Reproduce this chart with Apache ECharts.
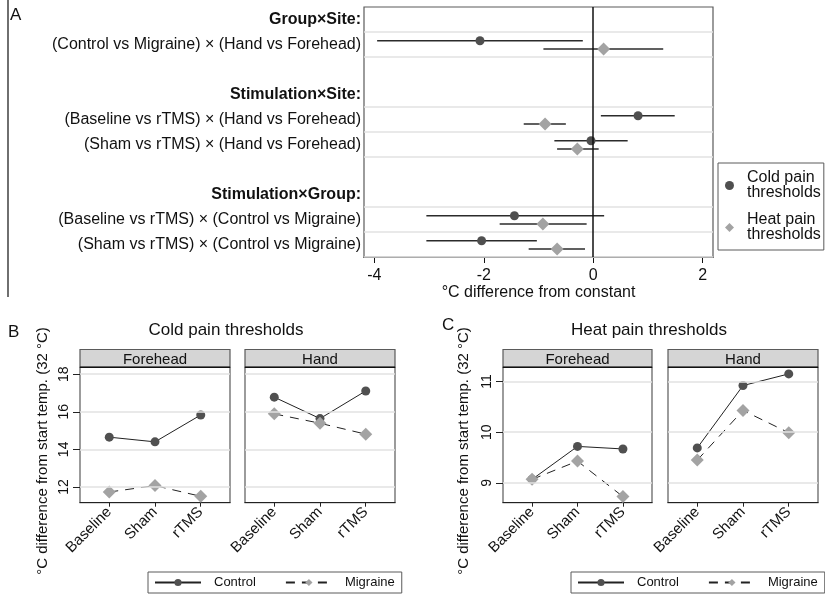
<!DOCTYPE html>
<html>
<head>
<meta charset="utf-8">
<script src="https://cdn.jsdelivr.net/npm/echarts@6/dist/echarts.min.js"></script>
<style>
html, body { margin: 0; padding: 0; background: #fff; }
#chart { width: 825px; height: 595px; }
</style>
</head>
<body>
<div id="chart"></div>
<script>
// Panel A: interaction contrasts (estimate and 95% CI)
var headings = ['Group×Site:', 'Stimulation×Site:', 'Stimulation×Group:']
var headingRows = [0, 3, 7]
var contrasts = [
	'(Control vs Migraine) × (Hand vs Forehead)',
	'(Baseline vs rTMS) × (Hand vs Forehead)',
	'(Sham vs rTMS) × (Hand vs Forehead)',
	'(Baseline vs rTMS) × (Control vs Migraine)',
	'(Sham vs rTMS) × (Control vs Migraine)',
]
var contrastRows = [1, 4, 5, 8, 9]
var coldEst = [-2.07, 0.82, -0.04, -1.44, -2.04]
var coldLo = [-3.95, 0.14, -0.71, -3.05, -3.05]
var coldHi = [-0.19, 1.49, 0.63, 0.2, -1.03]
var heatEst = [0.19, -0.88, -0.29, -0.92, -0.66]
var heatLo = [-0.91, -1.27, -0.66, -1.71, -1.18]
var heatHi = [1.28, -0.5, 0.1, -0.12, -0.15]
var ticksA = [-4, -2, 0, 2]

// Panels B and C: means per stimulation condition
var stimCats = ['Baseline', 'Sham', 'rTMS']
var coldForeheadControl = [14.65, 14.4, 15.83]
var coldForeheadMigraine = [11.73, 12.07, 11.5]
var coldHandControl = [16.78, 15.64, 17.11]
var coldHandMigraine = [15.89, 15.39, 14.81]
var heatForeheadControl = [9.07, 9.72, 9.67]
var heatForeheadMigraine = [9.07, 9.43, 8.73]
var heatHandControl = [9.69, 10.92, 11.15]
var heatHandMigraine = [9.45, 10.43, 9.99]
var coldTicks = [12, 14, 16, 18]
var heatTicks = [9, 10, 11]

var FONT = "'Liberation Sans', Arial, sans-serif"
var TXT = '#111'
var FRAME = '#5a5a5a'
var GRIDLINE = '#e2e2e2'

drawChart()

function drawChart() {
	var chart = echarts.init(document.getElementById('chart'))

	// row boundaries that get a light line in panel A
	var bounds = []
	contrastRows.forEach((r) => {
		if (bounds.indexOf(r) < 0) bounds.push(r)
		if (bounds.indexOf(r + 1) < 0) bounds.push(r + 1)
	})
	var rowLabelValues = headingRows.concat(contrastRows).map((r) => r + 0.5)

	var ciRender = (params, api) => {
		var a = api.coord([api.value(0), api.value(2)])
		var b = api.coord([api.value(1), api.value(2)])
		return {
			type: 'line',
			shape: { x1: a[0], y1: a[1], x2: b[0], y2: b[1] },
			style: { stroke: '#2b2b2b', lineWidth: 1.5 },
		}
	}

	// small-multiple panels (B and C)
	var panels = [
		{ grid: { left: 80, width: 150 }, min: 11.16, max: 18.37, ticks: coldTicks, control: coldForeheadControl, migraine: coldForeheadMigraine, labels: true, strip: 'Forehead' },
		{ grid: { left: 245, width: 150 }, min: 11.16, max: 18.37, ticks: coldTicks, control: coldHandControl, migraine: coldHandMigraine, labels: false, strip: 'Hand' },
		{ grid: { left: 503, width: 149 }, min: 8.61, max: 11.28, ticks: heatTicks, control: heatForeheadControl, migraine: heatForeheadMigraine, labels: true, strip: 'Forehead' },
		{ grid: { left: 668, width: 150 }, min: 8.61, max: 11.28, ticks: heatTicks, control: heatHandControl, migraine: heatHandMigraine, labels: false, strip: 'Hand' },
	]
	var stripTop = 349.5
	var plotTop = 367.3
	var plotH = 135.4

	var grids = [
		{ left: 364, top: 7, width: 349, height: 250, show: true, borderColor: FRAME, borderWidth: 1.2, outerBoundsMode: 'none', containLabel: false },
	]
	var xAxes = [
		{
			type: 'value', gridIndex: 0, min: -4.19, max: 2.19, position: 'bottom',
			axisLine: { show: true, onZero: false, lineStyle: { color: '#111', width: 1.2 } },
			axisTick: { show: true, length: 6, customValues: ticksA, lineStyle: { color: '#111' } },
			axisLabel: { customValues: ticksA, margin: 11, fontSize: 16, color: TXT, fontFamily: FONT },
			splitLine: { show: false },
			name: '°C difference from constant', nameLocation: 'middle', nameGap: 28,
			nameTextStyle: { fontSize: 16, color: TXT, fontFamily: FONT },
		},
	]
	var yAxes = [
		{
			type: 'value', gridIndex: 0, min: 0, max: 10, inverse: true, position: 'left',
			axisLine: { show: false, onZero: false }, axisTick: { show: false }, splitLine: { show: false },
			axisLabel: {
				customValues: rowLabelValues, margin: 3, fontSize: 16, color: TXT, fontFamily: FONT,
				formatter: (v) => {
					var r = Math.round(v - 0.5)
					var h = headingRows.indexOf(r)
					if (h >= 0) return '{h|' + headings[h] + '}'
					return contrasts[contrastRows.indexOf(r)]
				},
				rich: { h: { fontWeight: 'bold', fontSize: 16, color: TXT, fontFamily: FONT } },
			},
		},
	]

	var series = [
		{
			type: 'line', xAxisIndex: 0, yAxisIndex: 0, data: [], z: 1, silent: true,
			markLine: {
				symbol: 'none', silent: true, label: { show: false },
				lineStyle: { color: GRIDLINE, width: 1.5, type: 'solid' },
				data: bounds.map((b) => ({ yAxis: b })).concat([{ xAxis: 0, lineStyle: { color: '#111', width: 1.5, type: 'solid' } }]),
			},
		},
		{
			type: 'custom', xAxisIndex: 0, yAxisIndex: 0, z: 2, renderItem: ciRender,
			encode: { x: [0, 1], y: 2 },
			data: contrastRows.map((r, i) => [coldLo[i], coldHi[i], r + 0.35]),
		},
		{
			type: 'custom', xAxisIndex: 0, yAxisIndex: 0, z: 2, renderItem: ciRender,
			encode: { x: [0, 1], y: 2 },
			data: contrastRows.map((r, i) => [heatLo[i], heatHi[i], r + 0.68]),
		},
		{
			name: 'Cold pain\nthresholds', type: 'scatter', xAxisIndex: 0, yAxisIndex: 0, z: 3,
			symbol: 'circle', symbolSize: 9, itemStyle: { color: '#4f4f4f', opacity: 1 },
			data: contrastRows.map((r, i) => [coldEst[i], r + 0.35]),
		},
		{
			name: 'Heat pain\nthresholds', type: 'scatter', xAxisIndex: 0, yAxisIndex: 0, z: 3,
			symbol: 'diamond', symbolSize: 13, itemStyle: { color: '#a3a3a3', opacity: 1 },
			data: contrastRows.map((r, i) => [heatEst[i], r + 0.68]),
		},
	]

	var graphics = [
		{ type: 'line', shape: { x1: 8, y1: 0, x2: 8, y2: 297 }, style: { stroke: '#222', lineWidth: 1.3 } },
		{ type: 'text', x: 10, y: 15, style: { text: 'A', font: '17px ' + FONT, fill: TXT, verticalAlign: 'middle' } },
		{ type: 'text', x: 8, y: 332, style: { text: 'B', font: '17px ' + FONT, fill: TXT, verticalAlign: 'middle' } },
		{ type: 'text', x: 442, y: 325, style: { text: 'C', font: '17px ' + FONT, fill: TXT, verticalAlign: 'middle' } },
		{ type: 'text', x: 226, y: 330, style: { text: 'Cold pain thresholds', font: '17px ' + FONT, fill: TXT, align: 'center', verticalAlign: 'middle' } },
		{ type: 'text', x: 649, y: 330, style: { text: 'Heat pain thresholds', font: '17px ' + FONT, fill: TXT, align: 'center', verticalAlign: 'middle' } },
		{ type: 'text', x: 43, y: 451, rotation: Math.PI / 2, style: { text: '°C difference from start temp. (32 °C)', font: '15px ' + FONT, fill: TXT, align: 'center', verticalAlign: 'middle' } },
		{ type: 'text', x: 464, y: 451, rotation: Math.PI / 2, style: { text: '°C difference from start temp. (32 °C)', font: '15px ' + FONT, fill: TXT, align: 'center', verticalAlign: 'middle' } },
	]

	panels.forEach((p, k) => {
		var gi = k + 1
		grids.push({ left: p.grid.left, top: plotTop, width: p.grid.width, height: plotH, show: true, borderColor: FRAME, borderWidth: 1.2, outerBoundsMode: 'none', containLabel: false })
		xAxes.push({
			type: 'value', gridIndex: gi, min: -0.64, max: 2.64, position: 'bottom',
			axisLine: { show: true, onZero: false, lineStyle: { color: '#222', width: 1.2 } },
			axisTick: { show: true, length: 4, customValues: [0, 1, 2], lineStyle: { color: '#222' } },
			axisLabel: { customValues: [0, 1, 2], rotate: 45, margin: 7, fontSize: 15, color: TXT, fontFamily: FONT, formatter: (v) => stimCats[v] },
			splitLine: { show: false },
		})
		yAxes.push({
			type: 'value', gridIndex: gi, min: p.min, max: p.max, position: 'left',
			axisLine: { show: false, onZero: false },
			axisTick: { show: p.labels, length: 7, customValues: p.ticks, lineStyle: { color: '#222' } },
			axisLabel: { show: p.labels, customValues: p.ticks, rotate: 90, margin: 9, fontSize: 14, color: TXT, fontFamily: FONT },
			splitLine: { show: false },
		})
		series.push({
			type: 'line', xAxisIndex: gi, yAxisIndex: gi, data: [], z: 1, silent: true,
			markLine: {
				symbol: 'none', silent: true, label: { show: false },
				lineStyle: { color: GRIDLINE, width: 1.5, type: 'solid' },
				data: p.ticks.map((t) => ({ yAxis: t })),
			},
		})
		series.push({
			name: 'Control', type: 'line', xAxisIndex: gi, yAxisIndex: gi, z: 3,
			symbol: 'circle', symbolSize: 9, showSymbol: true,
			lineStyle: { color: '#222', width: 1 }, itemStyle: { color: '#505050' },
			data: p.control.map((v, i) => [i, v]),
		})
		series.push({
			name: 'Migraine', type: 'line', xAxisIndex: gi, yAxisIndex: gi, z: 3,
			symbol: 'diamond', symbolSize: 13, showSymbol: true,
			lineStyle: { color: '#222', width: 1, type: [9, 7] }, itemStyle: { color: '#a3a3a3' },
			data: p.migraine.map((v, i) => [i, v]),
		})
		graphics.push({ type: 'rect', shape: { x: p.grid.left, y: stripTop, width: p.grid.width, height: plotTop - stripTop }, style: { fill: '#d5d5d5', stroke: FRAME, lineWidth: 1.2 } })
		graphics.push({ type: 'line', shape: { x1: p.grid.left, y1: plotTop, x2: p.grid.left + p.grid.width, y2: plotTop }, style: { stroke: '#111', lineWidth: 1.5 } })
		graphics.push({ type: 'text', x: p.grid.left + p.grid.width / 2, y: (stripTop + plotTop) / 2 + 1, style: { text: p.strip, font: '15px ' + FONT, fill: TXT, align: 'center', verticalAlign: 'middle' } })
	})

	var bcLegend = (left) => ({
		orient: 'horizontal', left: left, top: 572, width: 300,
		data: ['Control', 'Migraine'],
		itemWidth: 46, itemHeight: 9, itemGap: 29,
		borderColor: FRAME, borderWidth: 1, padding: [4, 7, 4, 6],
		textStyle: { fontSize: 13, color: TXT, fontFamily: FONT, padding: [0, 0, 0, 8] },
	})

	var option = {
		animation: false,
		backgroundColor: '#fff',
		grid: grids,
		xAxis: xAxes,
		yAxis: yAxes,
		legend: [
			{
				orient: 'vertical', left: 718, top: 163,
				data: ['Cold pain\nthresholds', 'Heat pain\nthresholds'],
				itemWidth: 9, itemHeight: 9, itemGap: 11,
				borderColor: FRAME, borderWidth: 1, padding: [7, 3, 7, 7],
				textStyle: { fontSize: 16, lineHeight: 15, color: TXT, fontFamily: FONT, padding: [0, 0, 0, 8] },
			},
			bcLegend(148),
			bcLegend(571),
		],
		series: series,
		graphic: graphics,
	}

	chart.setOption(option)
}
</script>
</body>
</html>
